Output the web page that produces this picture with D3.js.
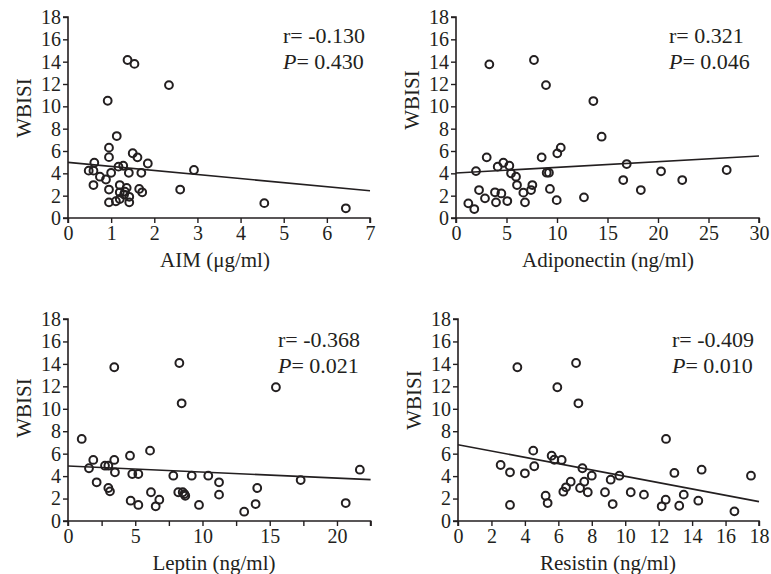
<!DOCTYPE html>
<html>
<head>
<meta charset="utf-8">
<script src="https://cdn.jsdelivr.net/npm/d3@7"></script>
<style>
  html, body { margin: 0; padding: 0; background: #ffffff; }
  svg { display: block; }
  text { font-family: "Liberation Serif", "Times New Roman", serif; fill: #231f20; }
</style>
</head>
<body>
<svg id="chart" width="771" height="574"></svg>
<script>
// ---------- data ----------
const yTicks = [0, 2, 4, 6, 8, 10, 12, 14, 16, 18];

const aimX = [1.38, 1.54, 2.34, 0.92, 1.13, 0.95, 0.95, 1.50, 1.61, 1.85, 0.61, 0.48, 0.59, 0.74, 0.88, 1.00, 1.17, 1.28, 1.41, 1.70, 2.92, 0.59, 0.95, 1.20, 1.36, 1.32, 1.20, 1.65, 1.72, 2.60, 0.95, 1.11, 1.20, 1.42, 1.42, 4.55, 6.44, 1.30];
const aimY = [14.15, 13.8, 11.9, 10.5, 7.34, 6.3, 5.45, 5.8, 5.43, 4.88, 4.95, 4.24, 4.24, 3.7, 3.45, 4.05, 4.6, 4.68, 4.05, 4.05, 4.3, 2.95, 2.55, 2.95, 2.7, 2.36, 2.3, 2.6, 2.3, 2.55, 1.4, 1.5, 1.7, 1.9, 1.4, 1.33, 0.87, 2.1];

const adipoX = [3.3, 7.72, 8.91, 13.6, 14.42, 10.37, 10.03, 8.48, 3.04, 4.69, 5.28, 4.13, 1.98, 5.45, 5.94, 6.04, 7.56, 7.43, 6.67, 8.98, 9.2, 9.3, 2.28, 3.86, 4.49, 2.87, 3.96, 5.08, 6.83, 9.97, 12.67, 1.22, 1.81, 16.56, 16.9, 18.3, 20.3, 22.4, 26.8];
const adipoY = [13.76, 14.15, 11.9, 10.47, 7.28, 6.3, 5.79, 5.43, 5.43, 4.95, 4.68, 4.6, 4.2, 4.0, 3.7, 2.95, 2.95, 2.5, 2.27, 4.06, 4.06, 2.6, 2.5, 2.3, 2.2, 1.76, 1.4, 1.52, 1.4, 1.6, 1.85, 1.31, 0.8, 3.4, 4.83, 2.5, 4.18, 3.4, 4.3];

const leptinX = [3.44, 8.28, 8.45, 15.46, 1.02, 6.1, 4.61, 1.88, 3.44, 1.56, 2.75, 3.0, 3.49, 4.78, 5.23, 2.13, 3.0, 3.12, 4.66, 5.23, 6.17, 6.52, 6.79, 7.83, 8.2, 8.53, 8.65, 8.72, 9.2, 9.74, 10.43, 11.23, 11.23, 13.1, 13.95, 14.07, 17.3, 20.65, 21.7];
const leptinY = [13.7, 14.08, 10.49, 11.92, 7.31, 6.27, 5.82, 5.44, 5.44, 4.7, 4.93, 4.93, 4.34, 4.19, 4.19, 3.45, 2.94, 2.64, 1.81, 1.43, 2.56, 1.31, 1.9, 4.04, 2.56, 2.56, 2.4, 2.25, 4.04, 1.43, 4.04, 3.45, 2.35, 0.83, 1.51, 2.94, 3.65, 1.6, 4.57];

const resistinX = [3.55, 7.06, 5.94, 7.2, 12.44, 4.5, 5.6, 5.76, 6.2, 7.44, 2.55, 3.11, 4.0, 4.56, 6.74, 7.55, 8.0, 9.13, 9.65, 6.46, 6.3, 7.3, 7.76, 8.79, 10.33, 11.12, 12.42, 13.5, 12.94, 14.57, 17.52, 5.24, 5.36, 3.11, 9.25, 12.18, 13.23, 14.37, 16.53];
const resistinY = [13.7, 14.08, 11.92, 10.49, 7.31, 6.27, 5.82, 5.46, 5.44, 4.7, 4.99, 4.34, 4.25, 4.88, 3.5, 3.5, 4.04, 3.68, 4.04, 3.0, 2.61, 2.94, 2.56, 2.56, 2.56, 2.35, 1.9, 2.35, 4.28, 4.57, 4.04, 2.25, 1.6, 1.43, 1.51, 1.31, 1.36, 1.81, 0.86];

// fitted regression lines: [intercept, slope]
const aimFit = [4.98, -0.363];
const adipoFit = [4.03, 0.0507];
const leptinFit = [4.9, -0.054];
const resistinFit = [6.8, -0.282];

const xTitles = ["AIM (\u03bcg/ml)", "Adiponectin (ng/ml)", "Leptin (ng/ml)", "Resistin (ng/ml)"];
const rLabels = ["r= -0.130", "r= 0.321", "r= -0.368", "r= -0.409"];
const pLabels = ["0.430", "0.046", "0.021", "0.010"];
const xMaxes = [7, 30, 22.5, 18];
const xTickSets = [
  [0, 1, 2, 3, 4, 5, 6, 7],
  [0, 5, 10, 15, 20, 25, 30],
  [0, 2.5, 5, 7.5, 10, 12.5, 15, 17.5, 20, 22.5],
  [0, 2, 4, 6, 8, 10, 12, 14, 16, 18]
];
const xLabelEvery = [1, 5, 5, 2];

// ---------- layout ----------
const panels = [
  { xs: aimX, ys: aimY, fit: aimFit, x0: 68, x1: 370, y0: 218, y1: 17, yTitleY: 108, xTitleX: 215, annX: 283, annY: 43 },
  { xs: adipoX, ys: adipoY, fit: adipoFit, x0: 456, x1: 759, y0: 218, y1: 17, yTitleY: 100, xTitleX: 608, annX: 669, annY: 43 },
  { xs: leptinX, ys: leptinY, fit: leptinFit, x0: 68, x1: 370.6, y0: 521, y1: 319, yTitleY: 408, xTitleX: 214, annX: 278, annY: 347 },
  { xs: resistinX, ys: resistinY, fit: resistinFit, x0: 458, x1: 759, y0: 521, y1: 319, yTitleY: 400, xTitleX: 608, annX: 672, annY: 347 }
];

const svg = d3.select("#chart");
const ink = "#231f20";

panels.forEach((p, i) => {
  const x = d3.scaleLinear().domain([0, xMaxes[i]]).range([p.x0, p.x1]);
  const y = d3.scaleLinear().domain([0, 18]).range([p.y0, p.y1]);
  const g = svg.append("g");

  // axes
  const every = xLabelEvery[i];
  const xAxis = d3.axisBottom(x).tickValues(xTickSets[i]).tickSize(5).tickPadding(3)
    .tickFormat(d => (Math.abs(d / every - Math.round(d / every)) < 1e-9 ? d3.format("d")(d) : ""));
  const yAxis = d3.axisLeft(y).tickValues(yTicks).tickSize(5).tickPadding(2).tickFormat(d3.format("d"));

  const gx = g.append("g").attr("transform", `translate(0,${p.y0})`).call(xAxis);
  const gy = g.append("g").attr("transform", `translate(${p.x0},0)`).call(yAxis);
  [gx, gy].forEach(a => {
    a.select(".domain").attr("stroke", ink).attr("stroke-width", 1.6);
    a.selectAll(".tick line").attr("stroke", ink).attr("stroke-width", 1.4);
    a.selectAll(".tick text").style("font-family", '"Liberation Serif", "Times New Roman", serif')
      .style("font-size", "20px").attr("fill", ink);
  });
  gx.select(".domain").attr("d", `M${p.x0},5V0H${p.x1}V5`);
  gy.select(".domain").attr("d", `M-5,${p.y0}H0V${p.y1}H-5`);

  // regression line
  const fx = [0, xMaxes[i]];
  g.append("line")
    .attr("x1", x(fx[0])).attr("y1", y(p.fit[0] + p.fit[1] * fx[0]))
    .attr("x2", x(fx[1])).attr("y2", y(p.fit[0] + p.fit[1] * fx[1]))
    .attr("stroke", ink).attr("stroke-width", 1.6);

  // points
  g.append("g").selectAll("circle")
    .data(p.xs.map((v, k) => [v, p.ys[k]]))
    .join("circle")
    .attr("cx", d => x(d[0])).attr("cy", d => y(d[1]))
    .attr("r", 3.9)
    .attr("fill", "none").attr("stroke", ink).attr("stroke-width", 2);

  // titles
  g.append("text")
    .attr("x", p.xTitleX).attr("y", p.y0 + 49)
    .attr("text-anchor", "middle").style("font-size", "21px")
    .text(xTitles[i]);
  g.append("text")
    .attr("transform", `translate(${p.x0 - 37},${p.yTitleY}) rotate(-90)`)
    .attr("text-anchor", "middle").style("font-size", "21px")
    .text("WBISI");

  // annotation
  g.append("text").attr("x", p.annX).attr("y", p.annY).style("font-size", "22px").text(rLabels[i]);
  const pt = g.append("text").attr("x", p.annX).attr("y", p.annY + 26).style("font-size", "22px");
  pt.append("tspan").style("font-style", "italic").text("P");
  pt.append("tspan").text("= " + pLabels[i]);
});
</script>
</body>
</html>
